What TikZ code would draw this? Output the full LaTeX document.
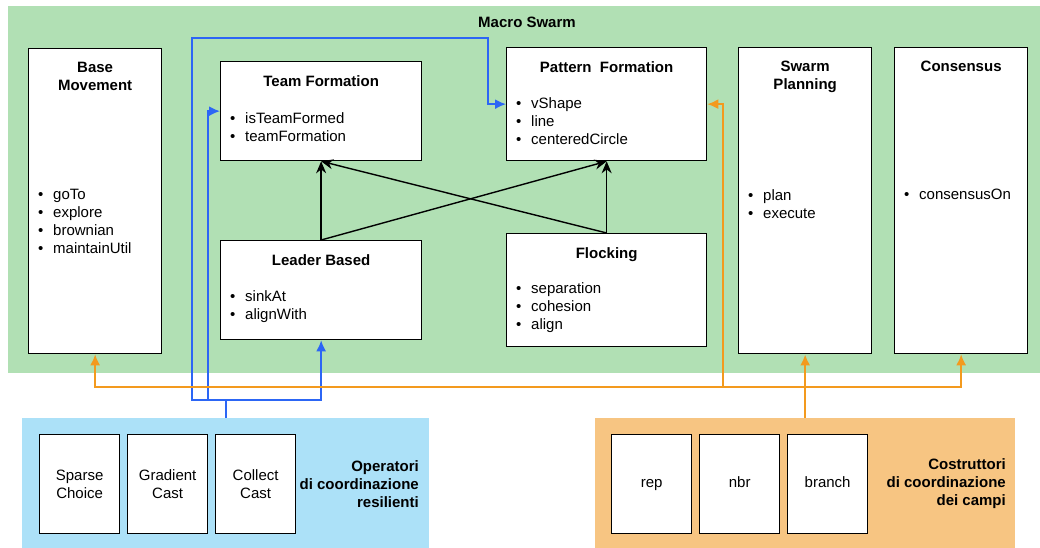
\documentclass[tikz,border=0pt]{standalone}
\usepackage{fontspec}
\setmainfont{Liberation Sans}
\usepackage{xcolor}
\usetikzlibrary{positioning,calc,arrows.meta}

\definecolor{swarmgreen}{HTML}{B1E0B4}
\definecolor{operblue}{HTML}{ACE1F8}
\definecolor{costorange}{HTML}{F7C582}
\definecolor{linkblue}{HTML}{2C66F5}
\definecolor{linkorange}{HTML}{F39A1E}

\newcommand{\itm}[1]{\makebox[15pt][l]{\textbullet}#1}

\begin{document}
\begin{tikzpicture}[x=1pt,y=-1pt,font=\fontsize{15}{18}\selectfont,
    module/.style={draw=black, line width=1.3pt, fill=white, anchor=north west, inner sep=0pt},
    prim/.style={module, minimum width=80pt, minimum height=99pt, align=center},
    title/.style={font=\fontsize{15}{18}\selectfont\bfseries, align=center, anchor=north, inner sep=0pt},
    items/.style={align=left, anchor=north west, inner sep=0pt},
    group/.style={anchor=north west, inner sep=0pt, minimum height=130pt},
    inherit/.style={-{Stealth[length=12pt,width=10pt]}, line width=1.4pt},
    bluelink/.style={color=linkblue, line width=1.7pt, -{Latex[length=11pt,width=10pt]}},
    orangelink/.style={color=linkorange, line width=1.7pt, -{Latex[length=11pt,width=10pt]}}]
    \useasboundingbox (0,0) rectangle (1040,548);

    % Macro Swarm
    \node[fill=swarmgreen, anchor=north west, inner sep=0pt, minimum width=1032pt, minimum height=367pt] (macro) at (8,6) {};
    \node[title] (macrotitle) at (527,17) {Macro Swarm};

    \node[module, minimum width=133pt, minimum height=305pt] (base) at (28,48) {};
    \node[title, below=14pt of base.north] {Base\\Movement};
    \node[items] at (38,189) {\itm{goTo}\\\itm{explore}\\\itm{brownian}\\\itm{maintainUtil}};

    \node[module, minimum width=201pt, minimum height=99pt] (team) at (220,61) {};
    \node[title, below=14pt of team.north] {Team Formation};
    \node[items] at (230,112) {\itm{isTeamFormed}\\\itm{teamFormation}};

    \node[module, minimum width=200pt, minimum height=113pt] (pat) at (506,47) {};
    \node[title, below=14pt of pat.north] {Pattern\ \ Formation};
    \node[items] at (516,97) {\itm{vShape}\\\itm{line}\\\itm{centeredCircle}};

    \node[module, minimum width=201pt, minimum height=99pt] (lead) at (220,240) {};
    \node[title, below=14pt of lead.north] {Leader Based};
    \node[items] at (230,290) {\itm{sinkAt}\\\itm{alignWith}};

    \node[module, minimum width=200pt, minimum height=113pt] (flock) at (506,233) {};
    \node[title, below=14pt of flock.north] {Flocking};
    \node[items] at (516,282) {\itm{separation}\\\itm{cohesion}\\\itm{align}};

    \node[module, minimum width=133pt, minimum height=306pt] (plan) at (738,47) {};
    \node[title, below=14pt of plan.north] {Swarm\\Planning};
    \node[items] at (748,189) {\itm{plan}\\\itm{execute}};

    \node[module, minimum width=133pt, minimum height=306pt] (cons) at (894,47) {};
    \node[title, below=14pt of cons.north] {Consensus};
    \node[items] at (904,189) {\itm{consensusOn}};

    % inheritance
    \draw[inherit] (lead.north) -- (team.south);
    \draw[inherit] (lead.north) -- (pat.south);
    \draw[inherit] (flock.north) -- (pat.south);
    \draw[inherit] (flock.north) -- (team.south);

    % Operatori di coordinazione resilienti
    \node[group, fill=operblue, minimum width=407pt] (oper) at (22,418) {};
    \node[prim] (sparse) at (39,434) {Sparse\\Choice};
    \node[prim] (gradient) at (127,434) {Gradient\\Cast};
    \node[prim] (collect) at (215,434) {Collect\\Cast};
    \node[font=\fontsize{15}{18}\selectfont\bfseries, align=right, anchor=east, inner sep=0pt] (operlabel) at (419,484) {Operatori\\di coordinazione\\resilienti};

    % Costruttori di coordinazione dei campi
    \node[group, fill=costorange, minimum width=420pt] (cost) at (595,418) {};
    \node[prim] (rep) at (611,434) {\strut rep};
    \node[prim] (nbr) at (699,434) {\strut nbr};
    \node[prim] (branch) at (787,434) {\strut branch};
    \node[font=\fontsize{15}{18}\selectfont\bfseries, align=right, anchor=east, inner sep=0pt] (costlabel) at (1006,484) {Costruttori\\di coordinazione\\dei campi};

    % blue links
    \coordinate (bj) at ($(oper.north)+(0,-18)$);
    \draw[color=linkblue, line width=2.4pt] (oper.north) -- (bj);
    \draw[bluelink] (bj) -| (lead.south);
    \draw[bluelink] (bj) -| ($(team.west)+(-12,0)$) -- (team.west);
    \draw[bluelink] (bj) -| (192,38) -| ($(pat.west)+(-18,0)$) -- (pat.west);

    % orange links
    \coordinate (oj) at ($(plan.south)+(0,33)$);
    \draw[orangelink, line width=2.4pt] (cost.north -| plan.south) -- (plan.south);
    \draw[orangelink] (oj) -| (base.south);
    \draw[orangelink] (oj) -| (cons.south);
    \draw[orangelink] (oj) -| ($(pat.east)+(16,0)$) -- (pat.east);
\end{tikzpicture}
\end{document}
